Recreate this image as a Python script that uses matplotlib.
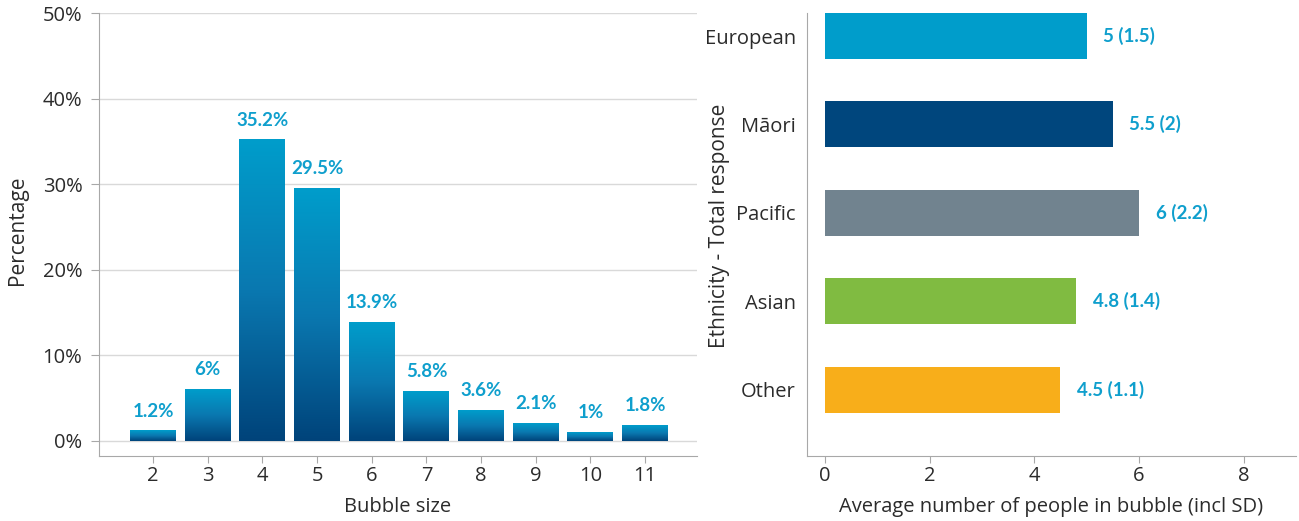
import numpy as np
import matplotlib
matplotlib.use('Agg')
import matplotlib.pyplot as plt
from matplotlib.colors import LinearSegmentedColormap
from matplotlib.ticker import FuncFormatter

plt.rcParams['font.family'] = ['Open Sans', 'DejaVu Sans']

bubble_sizes = [2, 3, 4, 5, 6, 7, 8, 9, 10, 11]
bubble_pct = [1.2, 6, 35.2, 29.5, 13.9, 5.8, 3.6, 2.1, 1, 1.8]
bubble_labels = ['1.2%', '6%', '35.2%', '29.5%', '13.9%', '5.8%', '3.6%', '2.1%', '1%', '1.8%']

ethnicity = ['European', 'Māori', 'Pacific', 'Asian', 'Other']
avg_people = [5, 5.5, 6, 4.8, 4.5]
avg_labels = ['5 (1.5)', '5.5 (2)', '6 (2.2)', '4.8 (1.4)', '4.5 (1.1)']
eth_colors = ['#009dcb', '#00467d', '#71838f', '#80bb41', '#f8ae1a']

label_blue = '#0f9fcd'
text_col = '#2b2b2b'
axis_col = '#a8a8a8'
grid_col = '#d9d9d9'
fs = 14.5
label_font = dict(family=['Lato', 'DejaVu Sans'], fontsize=13.5, fontweight='bold',
                  color=label_blue)

fig = plt.figure(figsize=(12.99, 5.21), dpi=100)
ax1 = fig.add_axes([0.0762, 0.125, 0.4604, 0.850])
ax2 = fig.add_axes([0.6213, 0.125, 0.3764, 0.850])

# left: gradient bars
cmap = LinearSegmentedColormap.from_list('bub', ['#00437a', '#0a78b0', '#009dcb'])
grad = np.linspace(0, 1, 256).reshape(-1, 1)
w = 0.84
for x, v, lab in zip(bubble_sizes, bubble_pct, bubble_labels):
    ax1.imshow(grad, extent=[x - w / 2, x + w / 2, 0, v], origin='lower',
               aspect='auto', cmap=cmap, zorder=2)
    ax1.annotate(lab, (x, v), xytext=(0, 8), textcoords='offset points',
                 ha='center', va='bottom', **label_font)

ax1.set_xlim(1.01, 11.95)
ax1.set_ylim(-1.75, 50)
ax1.set_yticks(range(0, 51, 10))
ax1.yaxis.set_major_formatter(FuncFormatter(lambda v, p: f'{int(v)}%'))
ax1.set_xticks(bubble_sizes)
ax1.grid(axis='y', color=grid_col, linewidth=1, zorder=0)
ax1.set_axisbelow(True)
ax1.set_xlabel('Bubble size', fontsize=fs, color=text_col)
ax1.set_ylabel('Percentage', fontsize=fs + 0.5, color=text_col)
ax1.xaxis.set_label_coords(0.5, -0.093)
ax1.yaxis.set_label_coords(-0.118, 0.51)

# right: horizontal bars
ypos = np.arange(len(ethnicity))[::-1]
ax2.barh(ypos, avg_people, height=0.52, color=eth_colors, zorder=2)
for y, v, lab in zip(ypos, avg_people, avg_labels):
    ax2.annotate(lab, (v, y), xytext=(12, 0), textcoords='offset points',
                 ha='left', va='center', **label_font)
ax2.set_yticks(ypos)
ax2.set_yticklabels(ethnicity)
ax2.set_xlim(-0.34, 9)
ax2.set_ylim(-0.75, 4.26)
ax2.set_xticks([0, 2, 4, 6, 8])
ax2.set_xlabel('Average number of people in bubble (incl SD)', fontsize=fs,
               color=text_col)
ax2.set_ylabel('Ethnicity - Total response', fontsize=fs + 0.5, color=text_col)
ax2.xaxis.set_label_coords(0.5, -0.093)
ax2.yaxis.set_label_coords(-0.157, 0.52)

for ax in (ax1, ax2):
    for s in ('top', 'right'):
        ax.spines[s].set_visible(False)
    for s in ('left', 'bottom'):
        ax.spines[s].set_color(axis_col)
    ax.tick_params(colors=axis_col, labelcolor=text_col, labelsize=fs)
ax1.tick_params(axis='x', length=5, pad=2)
ax1.tick_params(axis='y', length=6, pad=6)
ax2.tick_params(axis='x', length=5, pad=2)
ax2.tick_params(axis='y', length=0, pad=8)

fig.savefig('out.png', dpi=100)
